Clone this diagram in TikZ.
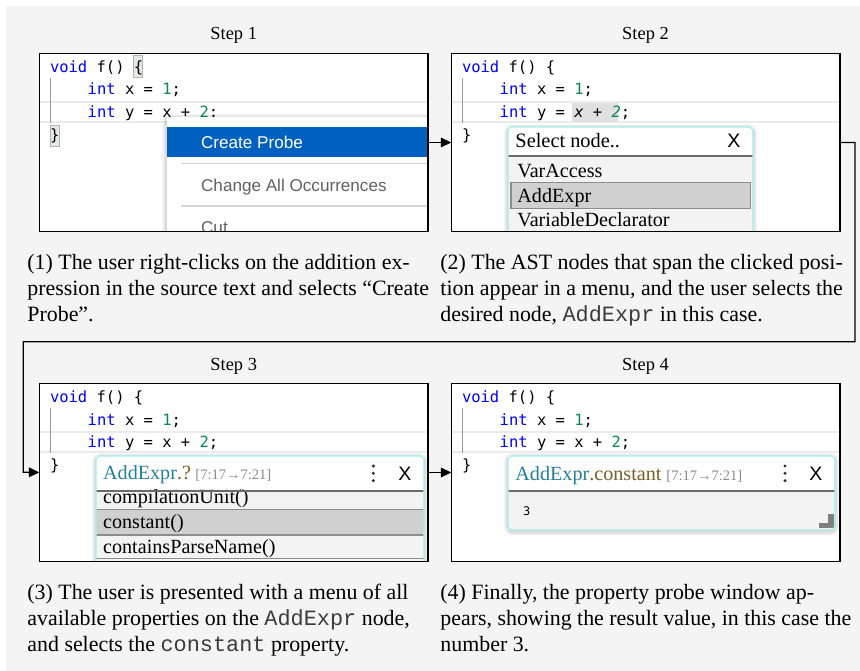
\documentclass[tikz,border=0pt]{standalone}
\usepackage{fontspec}
\setmainfont{Liberation Serif}
\setmonofont{Liberation Mono}
\newfontfamily\codefont{DejaVu Sans Mono}
\newfontfamily\uifont{Liberation Sans}
\usetikzlibrary{arrows.meta}
\definecolor{bgc}{HTML}{F4F4F4}
\definecolor{kwblue}{HTML}{0000FF}
\definecolor{numgreen}{HTML}{098658}
\definecolor{menublue}{HTML}{0060C0}
\definecolor{menugray}{HTML}{616161}
\definecolor{linehl}{HTML}{EBEBEB}
\definecolor{guidec}{HTML}{9A9A9A}
\definecolor{bracefill}{HTML}{E3EAE3}
\definecolor{selgray}{HTML}{E0E0E0}
\definecolor{popborder}{HTML}{A6EEF0}
\definecolor{rowhl}{HTML}{D0D0D0}
\definecolor{rowline}{HTML}{8C8C8C}
\definecolor{hdrline}{HTML}{6A6A6A}
\definecolor{listbg}{HTML}{F3F3F3}
\definecolor{tealc}{HTML}{267F99}
\definecolor{propbrown}{HTML}{795E26}
\definecolor{spangray}{HTML}{8A8A8A}
\definecolor{sepc}{HTML}{D4D4D4}
\definecolor{ttgray}{HTML}{3C3C3C}
\newcommand\kw[1]{\textcolor{kwblue}{#1}}
\newcommand\nm[1]{\textcolor{numgreen}{#1}}
\newcommand\cw[1]{\textcolor{ttgray}{\texttt{#1}}}
\tikzset{
  code/.style={anchor=base west, inner sep=0pt, outer sep=0pt, font=\codefont\fontsize{7.15}{9}\selectfont},
  editor/.style={anchor=north west, fill=white, minimum width=179.39pt, minimum height=82.33pt, inner sep=0pt, outer sep=0pt},
  boxline/.style={draw=black, line width=0.5pt},
  steplbl/.style={anchor=base, inner sep=0pt, font=\fontsize{8.5}{10}\selectfont},
  capline/.style={anchor=base west, inner sep=0pt, font=\fontsize{10.1}{12}\selectfont},
  menuitem/.style={anchor=base west, inner sep=0pt, font=\uifont\fontsize{7.9}{9}\selectfont},
  poptxt/.style={anchor=base west, inner sep=0pt, font=\fontsize{9.3}{11}\selectfont},
  spantxt/.style={anchor=base west, inner sep=0pt, text=spangray, font=\fontsize{6.7}{8}\selectfont},
  xbtn/.style={anchor=base west, inner sep=0pt, font=\uifont\fontsize{9}{10}\selectfont},
  popframe/.style={draw=popborder, line width=0.6pt, rounded corners=2pt},
  hdr/.style={draw=hdrline, line width=0.75pt},
  rowsep/.style={draw=rowline, line width=0.5pt},
  sepline/.style={draw=sepc, line width=0.6pt},
  bracebox/.style={fill=bracefill, draw=black!30, line width=0.3pt},
  arr/.style={draw=black, line width=0.6pt, -{Triangle[length=4.8pt,width=4.4pt]}},
}
\newcommand\popshadow[4]{%
  \foreach \w in {0.8pt,1.6pt,2.4pt,3.2pt,4pt}{%
    \draw[black, opacity=0.03, line width=\w, rounded corners=2pt] (#1,#2) rectangle (#3,#4);}}
\newcommand\editorbg{%
  \fill[linehl] (0,47.7) rectangle (388.7,49.7);
  \fill[linehl] (0,67.7) rectangle (388.7,69.7);
  \draw[guidec, line width=0.4pt] (11.4,24.7) -- (11.4,69.7);}
\newcommand\codelines[2]{%
  \node[code] (#1l1) at (10.7,19) {\kw{void} f() \{};
  \node[code] (#1l2) at (48.4,41.7) {\kw{int} x = \nm{1};};
  \node[code] (#1l3) at (48.4,64.4) {#2};
  \node[code] (#1l4) at (10.7,87.1) {\}};}
\newcommand\vdotsicon[1]{%
  \fill[black!80] (#1,82.7) circle[radius=1.7];
  \fill[black!80] (#1,90) circle[radius=1.7];
  \fill[black!80] (#1,97.4) circle[radius=1.7];}
\begin{document}
\begin{tikzpicture}[x=0.4615pt,y=-0.4615pt]
\useasboundingbox (0,0) rectangle (860,671);
\fill[bgc] (6,6) rectangle (860,671);

\node[steplbl] (st1) at (233.7,40) {Step 1};
\node[steplbl] (st2) at (645.5,40) {Step 2};
\node[steplbl] (st3) at (233.7,370) {Step 3};
\node[steplbl] (st4) at (645.5,370) {Step 4};

% ---------- Step 1 ----------
\begin{scope}[shift={(39.3,53.3)}]
  \node[editor] (box1) at (0,0) {};
  \begin{scope}
    \clip (0,0) rectangle (388.7,178.4);
    \editorbg
    \filldraw[bracebox] (94,1.7) rectangle (103.2,24);
    \filldraw[bracebox] (10.7,71.7) rectangle (19.7,92.7);
    \codelines{a}{\kw{int} y = x + \nm{2};}
    \popshadow{127.4}{64.7}{420}{200}
    \fill[white] (127.4,63.7) rectangle (420,200);
    \fill[menublue] (127.7,74) rectangle (388.7,104);
    \node[menuitem, text=white] (m1) at (161.4,95) {Create Probe};
    \draw[sepline] (141.4,110) -- (388.7,110);
    \node[menuitem, text=menugray] (m2) at (161.4,138.4) {Change All Occurrences};
    \draw[sepline] (141.4,152.7) -- (388.7,152.7);
    \node[menuitem, text=menugray] (m3) at (161.4,179.7) {Cut};
  \end{scope}
  \draw[boxline] (box1.north west) rectangle (box1.south east);
\end{scope}

% ---------- Step 2 ----------
\begin{scope}[shift={(451.3,53.3)}]
  \node[editor] (box2) at (0,0) {};
  \begin{scope}
    \clip (0,0) rectangle (388.7,178.4);
    \editorbg
    \fill[selgray] (120.7,49.7) rectangle (166.4,68.4);
    \codelines{b}{\kw{int} y = {\itshape x + \nm{2}};}
    \popshadow{56.7}{75}{301.7}{210}
    \fill[white] (56.7,73.7) rectangle (301.7,102.7);
    \fill[listbg] (56.7,102.7) rectangle (301.7,210);
    \filldraw[fill=rowhl, rowsep, line width=0.6pt] (59.7,129.4) rectangle (299.4,155);
    \node[poptxt, font=\fontsize{9.4}{11}\selectfont] (p2h) at (63.7,94.7) {Select node..};
    \node[xbtn] (p2x) at (275.7,94.7) {X};
    \node[poptxt] (p2r1) at (65.7,124.4) {VarAccess};
    \node[poptxt] (p2r2) at (65.7,149.4) {AddExpr};
    \node[poptxt] (p2r3) at (65.7,173.4) {VariableDeclarator};
    \draw[hdr] (56.7,102.7) -- (301.7,102.7);
    \draw[popframe] (56.7,73.7) rectangle (301.7,210);
  \end{scope}
  \draw[boxline] (box2.north west) rectangle (box2.south east);
\end{scope}

% ---------- Step 3 ----------
\begin{scope}[shift={(39.3,383.3)}]
  \node[editor] (box3) at (0,0) {};
  \begin{scope}
    \clip (0,0) rectangle (388.7,178.4);
    \editorbg
    \codelines{c}{\kw{int} y = x + \nm{2};}
    \popshadow{56.7}{74}{384.7}{210}
    \fill[white] (56.7,72.7) rectangle (384.7,107.4);
    \fill[listbg] (56.7,107.4) rectangle (384.7,210);
    \fill[rowhl] (56.7,126) rectangle (384.7,151.7);
    \draw[rowsep] (56.7,126) -- (384.7,126);
    \draw[rowsep] (56.7,151.7) -- (384.7,151.7);
    \draw[rowsep] (56.7,175) -- (384.7,175);
    \node[poptxt] (p3r1) at (63.4,120) {compilationUnit()};
    \node[poptxt] (p3r2) at (63.4,145) {constant()};
    \node[poptxt] (p3r3) at (63.4,170) {containsParseName()};
    \node[poptxt] (p3h) at (63.4,96) {\textcolor{tealc}{AddExpr}\textcolor{propbrown}{.?}};
    \node[spantxt] (p3s) at (155.7,96) {[7:17→7:21]};
    \vdotsicon{334}
    \node[xbtn] (p3x) at (358.7,97) {X};
    \draw[hdr] (56.7,107.4) -- (384.7,107.4);
    \draw[popframe] (56.7,72.7) rectangle (384.7,210);
  \end{scope}
  \draw[boxline] (box3.north west) rectangle (box3.south east);
\end{scope}

% ---------- Step 4 ----------
\begin{scope}[shift={(451.3,383.3)}]
  \node[editor] (box4) at (0,0) {};
  \begin{scope}
    \clip (0,0) rectangle (388.7,178.4);
    \editorbg
    \codelines{d}{\kw{int} y = x + \nm{2};}
    \popshadow{56.7}{74}{383.7}{148}
    \fill[white] (56.7,72.7) rectangle (383.7,107.4);
    \fill[listbg] (56.7,107.4) rectangle (383.7,146.7);
    \node[poptxt] (p4h) at (63.7,96.7) {\textcolor{tealc}{AddExpr}\textcolor{propbrown}{.constant}};
    \node[spantxt] (p4s) at (214.7,96.7) {[7:17→7:21]};
    \vdotsicon{333.7}
    \node[xbtn] (p4x) at (357.7,97) {X};
    \node[code, font=\codefont\fontsize{5.5}{7}\selectfont] (p4v) at (71.7,131.7) {3};
    \fill[black!50] (367.7,140) rectangle (382.7,145);
    \fill[black!50] (377,130.7) rectangle (382.7,145);
    \draw[hdr] (56.7,107.4) -- (383.7,107.4);
    \draw[popframe] (56.7,72.7) rectangle (383.7,146.7);
  \end{scope}
  \draw[boxline] (box4.north west) rectangle (box4.south east);
\end{scope}

% ---------- Connectors ----------
\coordinate (r1) at (855,341.7);
\coordinate (l1) at (23.3,472.2);
\draw[arr] (box1.east) -- (box2.west);
\draw[arr] (box2.east) -| (r1) -| (l1) -- (box3.west);
\draw[arr] (box3.east) -- (box4.west);

% ---------- Captions ----------
\node[capline] (c1a) at (27,269) {(1) The user right-clicks on the addition ex-};
\node[capline] (c1b) at (27,295) {pression in the source text and selects “Create};
\node[capline] (c1c) at (27,321) {Probe”.};
\node[capline] (c2a) at (440,269) {(2) The AST nodes that span the clicked posi-};
\node[capline] (c2b) at (440,295) {tion appear in a menu, and the user selects the};
\node[capline] (c2c) at (440,321) {desired node, \cw{AddExpr} in this case.};
\node[capline] (c3a) at (27,599) {(3) The user is presented with a menu of all};
\node[capline] (c3b) at (27,625) {available properties on the \cw{AddExpr} node,};
\node[capline] (c3c) at (27,651) {and selects the \cw{constant} property.};
\node[capline] (c4a) at (440,599) {(4) Finally, the property probe window ap-};
\node[capline] (c4b) at (440,625) {pears, showing the result value, in this case the};
\node[capline] (c4c) at (440,651) {number 3.};
\end{tikzpicture}
\end{document}
